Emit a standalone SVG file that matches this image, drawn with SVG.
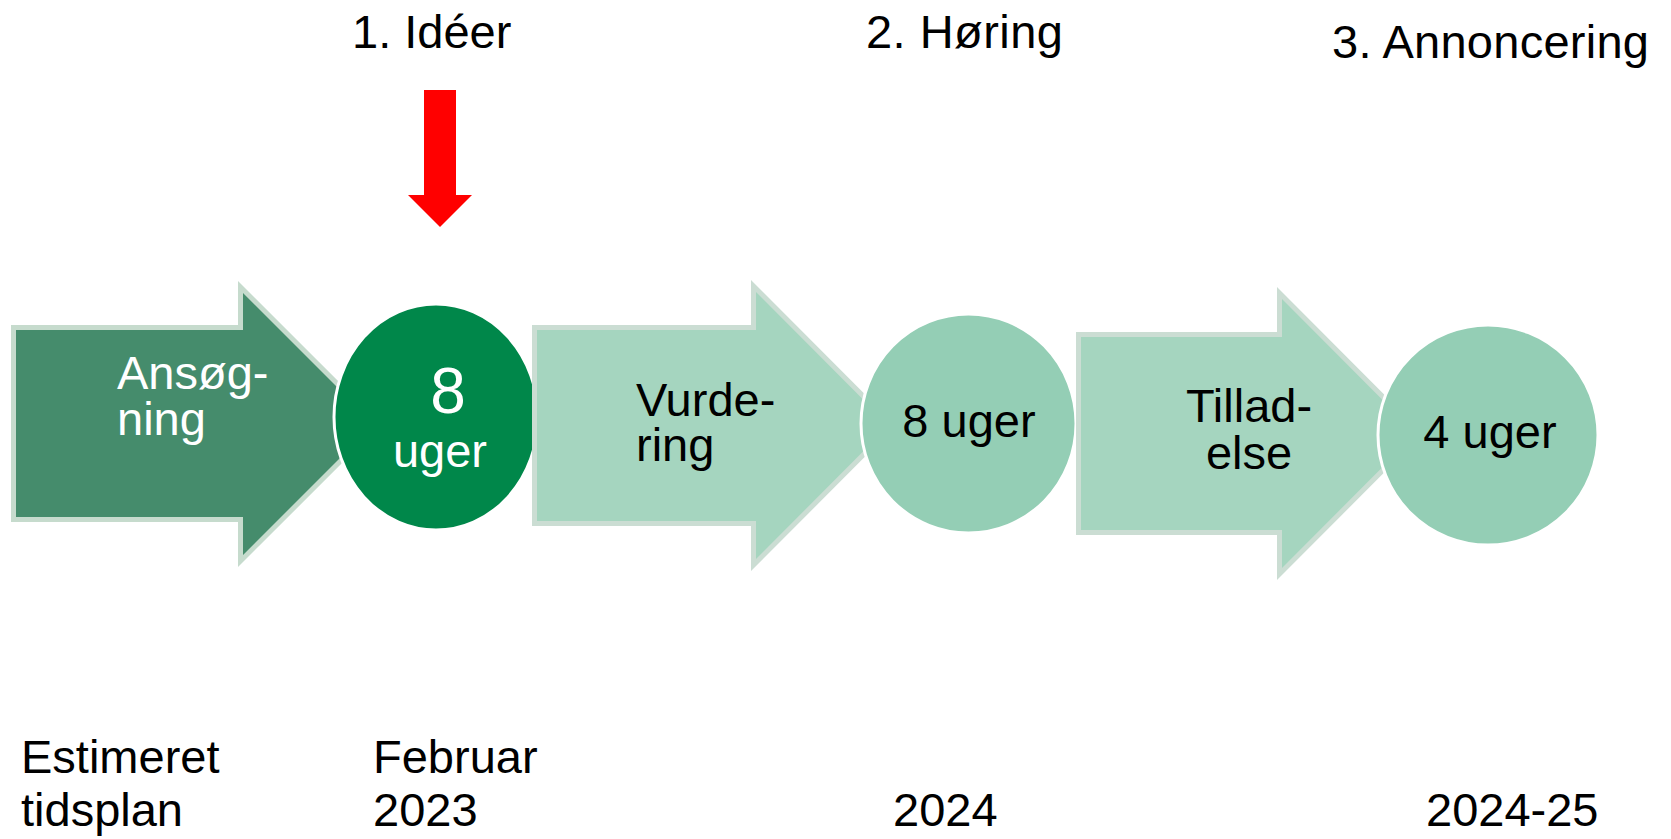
<svg xmlns="http://www.w3.org/2000/svg" width="1671" height="839" viewBox="0 0 1671 839">
<style>
text{font-family:"Liberation Sans",Arial,sans-serif;font-size:47px;fill:#000}
.w{fill:#fff}
.c{text-anchor:middle}
.arrow{stroke-width:10;stroke-linejoin:miter;stroke-miterlimit:10}
.dark{fill:#458C6C;stroke:#C6DBCD}
.light{fill:#A5D5BF;stroke:#CBDDD3}
.circ{stroke:#fff;stroke-width:3}
</style>
<rect width="1671" height="839" fill="#fff"/>
<g id="title1"><text x="352" y="48">1. Idéer</text></g>
<g id="title2"><text x="866" y="48" textLength="197">2. Høring</text></g>
<g id="title3"><text x="1332" y="58" textLength="317">3. Annoncering</text></g>
<g id="red-arrow"><polygon points="424,90 456,90 456,195 472,195 440,227 408,195 424,195" fill="#FF0000"/></g>
<g id="arrow1">
<polygon class="arrow dark" points="16,330 243,330 243,293 374,424 243,555 243,517 16,517"/>
<polygon fill="#458C6C" points="16,330 243,330 243,293 374,424 243,555 243,517 16,517"/>
<text class="w" x="117" y="389">Ansøg-</text>
<text class="w" x="117" y="435">ning</text>
</g>
<g id="circle1">
<ellipse class="circ" cx="436" cy="417" rx="102" ry="113" fill="#00874A"/>
<text class="w c" x="448" y="413" style="font-size:64px">8</text>
<text class="w c" x="440" y="467">uger</text>
</g>
<g id="arrow2">
<polygon class="arrow light" points="537,330 756,330 756,292 889,425.5 756,559 756,521 537,521"/>
<polygon fill="#A5D5BF" points="537,330 756,330 756,292 889,425.5 756,559 756,521 537,521"/>
<text x="636" y="416">Vurde-</text>
<text x="636" y="461">ring</text>
</g>
<g id="circle2">
<ellipse class="circ" cx="968.5" cy="423.5" rx="107.5" ry="109.5" fill="#94CEB5"/>
<text class="c" x="969" y="437">8 uger</text>
</g>
<g id="arrow3">
<polygon class="arrow light" points="1081,337 1282,337 1282,299 1416,433.5 1282,568 1282,530 1081,530"/>
<polygon fill="#A5D5BF" points="1081,337 1282,337 1282,299 1416,433.5 1282,568 1282,530 1081,530"/>
<text class="c" x="1249" y="422">Tillad-</text>
<text class="c" x="1249" y="469">else</text>
</g>
<g id="circle3">
<ellipse class="circ" cx="1488" cy="435" rx="110" ry="110" fill="#94CEB5"/>
<text class="c" x="1490" y="448">4 uger</text>
</g>
<g id="timeline">
<text x="21" y="773">Estimeret</text>
<text x="21" y="826">tidsplan</text>
<text x="373" y="773">Februar</text>
<text x="373" y="826">2023</text>
<text x="893" y="826">2024</text>
<text x="1426" y="826">2024-25</text>
</g>
</svg>
